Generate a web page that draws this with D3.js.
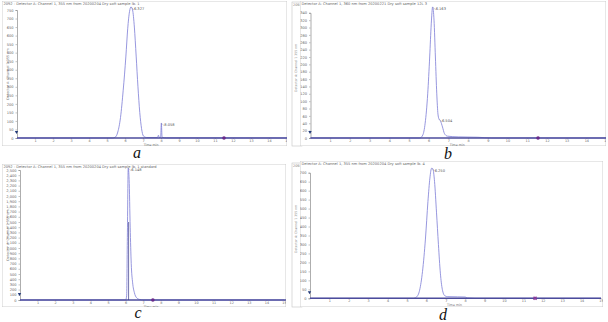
<!DOCTYPE html>
<html>
<head>
<meta charset="utf-8">
<script src="https://cdn.jsdelivr.net/npm/d3@7"></script>
<style>
body { margin: 0; background: #fff; }
svg { display: block; }
</style>
</head>
<body>
<div id="chart-area"></div>
<script>
// chromatogram traces: [time (min), signal (mAU)]
var curveA = [[0, 0], [5.3, 0], [5.45, 4], [5.6, 35], [5.75, 120], [5.9, 280], [6.05, 480], [6.15, 640], [6.25, 740], [6.33, 768], [6.42, 750], [6.52, 650], [6.62, 480], [6.72, 300], [6.82, 150], [6.92, 55], [7.02, 12], [7.2, 3], [7.8, 3], [7.86, 16], [7.9, 3], [7.98, 4], [8.02, 88], [8.06, 4], [8.3, 1], [15, 0]];
var curveB = [[0, 0], [5.55, 0], [5.7, 8], [5.82, 40], [5.95, 120], [6.05, 220], [6.13, 310], [6.2, 356], [6.27, 320], [6.34, 220], [6.41, 120], [6.47, 65], [6.52, 52], [6.6, 46], [6.7, 30], [6.8, 12], [6.95, 5], [7.5, 3], [8.5, 2], [9.2, 0], [15, 0]];
var curveC = [[0, 0], [6.0, 0], [6.06, 80], [6.1, 1200], [6.15, 2540], [6.2, 2320], [6.26, 1400], [6.32, 700], [6.4, 330], [6.5, 140], [6.62, 45], [6.8, 10], [7.0, 0], [15, 0]];
var curveD = [[0, 0], [5.35, 0], [5.5, 8], [5.65, 45], [5.8, 150], [5.95, 330], [6.08, 540], [6.18, 670], [6.27, 725], [6.33, 722], [6.42, 650], [6.52, 480], [6.62, 300], [6.72, 140], [6.82, 50], [6.95, 14], [7.1, 9], [7.6, 8], [8.0, 7], [8.1, 2], [8.5, 0], [15, 0]];

// peak labels [time, signal, text]
var peaksA = [[6.33, 768, "6.327"], [8.02, 88, "8.058"]];
var peaksB = [[6.2, 356, "6.163"], [6.52, 52, "6.504"]];
var peaksC = [[6.15, 2540, "6.148"]];
var peaksD = [[6.27, 725, "6.250"]];

// axis ticks
var xTicks = [1, 2, 3, 4, 5, 6, 7, 8, 9, 10, 11, 12, 13, 14, 15];
var yTicksA = [0, 50, 100, 150, 200, 250, 300, 350, 400, 450, 500, 550, 600, 650, 700, 750];
var yTicksB = [0, 20, 40, 60, 80, 100, 120, 140, 160, 180, 200, 220, 240, 260, 280, 300, 320, 340];
var yTicksC = [0, 100, 200, 300, 400, 500, 600, 700, 800, 900, 1000, 1100, 1200, 1300, 1400, 1500, 1600, 1700, 1800, 1900, 2000, 2100, 2200, 2300, 2400, 2500];
var yTicksD = [0, 50, 100, 150, 200, 250, 300, 350, 400, 450, 500, 550, 600, 650, 700];

// stop marker position on the time axis
var markA = 11.5, markB = 11.55, markC = 7.55, markD = 11.6;

var titles = [
	"2092 - Detector A: Channel 1, 355 nm from 20200204 Dry soft sample lb. 1",
	"Detector A: Channel 1, 360 nm from 20200221 Dry soft sample 12L 3",
	"2092 - Detector A: Channel 1, 355 nm from 20200204 Dry soft sample lb. 1 standard",
	"Detector A: Channel 1, 355 nm from 20200204 Dry soft sample lb. 4"
];
var captions = ["a", "b", "c", "d"];

var width = 608;
var height = 322;

var svg = d3.select("#chart-area")
	.append("svg")
	.attr("width", width)
	.attr("height", height)
	.style("font-family", "DejaVu Sans, sans-serif");

var panels = [
	{ curve: curveA, peaks: peaksA, yTicks: yTicksA, mark: markA, markType: "dot",
		frame: [2, 1, 287, 146], x: [17, 287], y: [138, 10], yMax: 750, yTitle: true,
		title: titles[0], caption: captions[0], capPos: [137, 158], xEnd: 287 },
	{ curve: curveB, peaks: peaksB, yTicks: yTicksB, mark: markB, markType: "dot",
		frame: [300, 1, 606, 146], x: [310.5, 606], y: [138, 12.8], yMax: 340, yTitle: false,
		title: titles[1], caption: captions[1], capPos: [448, 159], xEnd: 606 },
	{ curve: curveC, peaks: peaksC, yTicks: yTicksC, mark: markC, markType: "dot",
		frame: [2, 164, 286, 307], x: [20, 284], y: [300, 170], yMax: 2500, yTitle: true,
		title: titles[2], caption: captions[2], capPos: [138, 318], xEnd: 286 },
	{ curve: curveD, peaks: peaksD, yTicks: yTicksD, mark: markD, markType: "x",
		frame: [300, 161, 603, 307], x: [310, 601], y: [298.3, 172.7], yMax: 700, yTitle: false,
		title: titles[3], caption: captions[3], capPos: [443, 320], xEnd: 601 }
];

// strips of the neighbouring exports that peek out on the right of a and c
[[292, 2, 146], [292, 163, 307]].forEach(function (s) {
	svg.append("rect")
		.attr("x", s[0]).attr("y", s[1])
		.attr("width", 10).attr("height", s[2] - s[1])
		.attr("fill", "#fff").attr("stroke", "#c4c4c4").attr("stroke-width", 0.6);
	svg.append("text")
		.attr("x", s[0] + 1).attr("y", s[1] + 4)
		.attr("font-size", "3.4px").attr("fill", "#777")
		.text("2092");
	svg.append("text")
		.attr("transform", "translate(" + (s[0] + 5) + "," + (s[1] + 90) + ") rotate(-90)")
		.attr("font-size", "3.2px").attr("fill", "#888")
		.text("Detector A: Channel 1 355 nm");
});

panels.forEach(function (p, i) {
	var g = svg.append("g");
	var clipId = "clip" + i;
	svg.append("clipPath").attr("id", clipId)
		.append("rect")
		.attr("x", p.frame[0]).attr("y", p.frame[1])
		.attr("width", p.frame[2] - p.frame[0]).attr("height", p.frame[3] - p.frame[1]);
	g.attr("clip-path", "url(#" + clipId + ")");

	g.append("rect")
		.attr("x", p.frame[0]).attr("y", p.frame[1])
		.attr("width", p.frame[2] - p.frame[0]).attr("height", p.frame[3] - p.frame[1])
		.attr("fill", "#fff").attr("stroke", "#c4c4c4").attr("stroke-width", 0.8);

	var xScale = d3.scaleLinear().domain([0, 15]).range(p.x);
	var yScale = d3.scaleLinear().domain([0, p.yMax]).range(p.y);

	g.append("text")
		.attr("x", p.frame[0] + 1.5).attr("y", p.frame[1] + 4)
		.attr("font-size", "3.6px").attr("fill", "#666")
		.text(p.title);

	// y axis
	var yAxis = d3.axisLeft(yScale).tickValues(p.yTicks).tickSize(1.5).tickPadding(2);
	var yG = g.append("g").attr("transform", "translate(" + p.x[0] + ",0)").call(yAxis);
	yG.select(".domain").attr("stroke", "#777").attr("stroke-width", 0.6);
	yG.selectAll(".tick line").attr("stroke", "#888").attr("stroke-width", 0.5);
	yG.selectAll(".tick text").attr("font-size", "3.6px").attr("fill", "#666").attr("font-family", "DejaVu Sans, sans-serif");

	// x axis
	var xAxis = d3.axisBottom(xScale).tickValues(xTicks).tickSize(1).tickPadding(0.6);
	var xG = g.append("g").attr("transform", "translate(0," + p.y[0] + ")").call(xAxis);
	xG.select(".domain").remove();
	xG.selectAll(".tick line").attr("stroke", "#888").attr("stroke-width", 0.5);
	xG.selectAll(".tick text").attr("font-size", "3.4px").attr("fill", "#666").attr("font-family", "DejaVu Sans, sans-serif");

	g.append("text")
		.attr("x", xScale(7.45)).attr("y", p.y[0] + 7.6)
		.attr("text-anchor", "middle")
		.attr("font-size", "3.2px").attr("fill", "#666")
		.text("Time min");

	if (p.yTitle) {
		g.append("text")
			.attr("transform", "translate(" + (p.frame[0] + 7) + "," + ((p.y[0] + p.y[1]) / 2) + ") rotate(-90)")
			.attr("text-anchor", "middle")
			.attr("font-size", "3.4px").attr("fill", "#777")
			.text("Detector A: Channel 1 355 nm");
	}

	// trace
	var line = d3.line()
		.x(function (d) { return xScale(d[0]); })
		.y(function (d) { return yScale(d[1]); })
		.curve(d3.curveMonotoneX);

	g.append("path")
		.datum(p.curve)
		.attr("d", line)
		.attr("fill", "none")
		.attr("stroke", "#7c7cd6")
		.attr("stroke-width", 0.8);

	// baseline
	g.append("line")
		.attr("x1", xScale(0)).attr("x2", p.xEnd)
		.attr("y1", yScale(0)).attr("y2", yScale(0))
		.attr("stroke", "#4c4c9c").attr("stroke-width", 1.4);

	// peak labels
	p.peaks.forEach(function (pk) {
		var px = xScale(pk[0]), py = yScale(pk[1]);
		g.append("line")
			.attr("x1", px + 0.5).attr("y1", py + 0.5)
			.attr("x2", px + 3).attr("y2", py + 3)
			.attr("stroke", "#888").attr("stroke-width", 0.4);
		g.append("text")
			.attr("x", px + 3).attr("y", py + 3.5)
			.attr("font-size", "3.6px").attr("fill", "#555")
			.text(pk[2]);
	});

	// injection marker at the start of the axis
	g.append("path")
		.attr("d", d3.symbol().type(d3.symbolTriangle).size(5)())
		.attr("transform", "translate(" + (xScale(0) - 0.5) + "," + (yScale(0) - 6) + ") rotate(180)")
		.attr("fill", "#223a7a");

	// stop marker
	if (p.markType === "dot") {
		g.append("circle")
			.attr("cx", xScale(p.mark)).attr("cy", yScale(0))
			.attr("r", 1.8).attr("fill", "#6a2a8a");
	} else {
		g.append("path")
			.attr("d", d3.symbol().type(d3.symbolCross).size(10)())
			.attr("transform", "translate(" + xScale(p.mark) + "," + yScale(0) + ") rotate(45)")
			.attr("fill", "#8a3a9a");
	}

	svg.append("text")
		.attr("x", p.capPos[0]).attr("y", p.capPos[1])
		.attr("text-anchor", "middle")
		.attr("font-family", "Liberation Serif, serif")
		.attr("font-style", "italic")
		.attr("font-size", "16px")
		.attr("fill", "#111")
		.text(p.caption);
});

// drop line under the sharp peak in c
var cx = d3.scaleLinear().domain([0, 15]).range(panels[2].x);
var cy = d3.scaleLinear().domain([0, panels[2].yMax]).range(panels[2].y);
svg.append("line")
	.attr("x1", cx(6.17)).attr("x2", cx(6.17))
	.attr("y1", cy(1500)).attr("y2", cy(0))
	.attr("stroke", "#3a3a8a").attr("stroke-width", 0.7);
</script>
</body>
</html>
